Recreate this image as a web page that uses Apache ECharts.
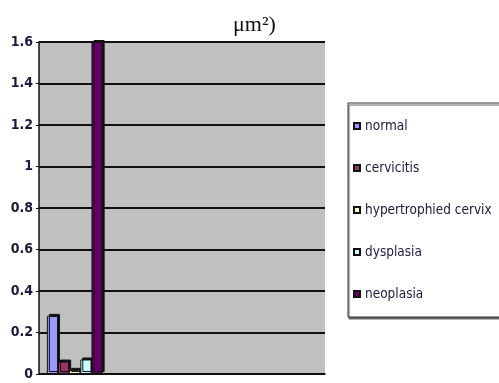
<!DOCTYPE html>
<html><head><meta charset="utf-8">
<script src="https://cdn.jsdelivr.net/npm/echarts@6/dist/echarts.min.js"></script>
<style>html,body{margin:0;padding:0;background:#fff}#c{width:499px;height:383px}</style>
</head><body><div id="c"></div>
<script>
const categories = ['', '', '', ''];
const seriesNames = ['normal', 'cervicitis', 'hypertrophied cervix', 'dysplasia', 'neoplasia'];
const normal = [0.28, null, null, null];
const cervicitis = [0.06, null, null, null];
const hypertrophied = [0.02, null, null, null];
const dysplasia = [0.07, null, null, null];
const neoplasia = [1.6, null, null, null];
const yTicks = [0, 0.2, 0.4, 0.6, 0.8, 1, 1.2, 1.4, 1.6];
const colors = ['#9999ff', '#993366', '#ffffcc', '#ccffff', '#660066'];
const values = [normal, cervicitis, hypertrophied, dysplasia, neoplasia];

const chart = echarts.init(document.getElementById('c'));
chart.setOption({
  animation: false,
  title: {
    text: 'μm²)', left: 228, top: 9,
    textStyle: {fontFamily: 'Liberation Serif', fontWeight: 'normal', fontSize: 22, color: '#111'}
  },
  grid: {left: 39, right: 174, top: 42, bottom: 9, show: true, backgroundColor: '#c0c0c0', borderWidth: 0},
  legend: {
    orient: 'vertical', left: 348, top: 103, width: 152,
    padding: [16, 30, 16, 5],
    itemWidth: 6, itemHeight: 6, itemGap: 28,
    backgroundColor: '#fff', borderColor: '#333', borderWidth: 1,
    shadowColor: '#666', shadowOffsetX: 1, shadowOffsetY: 2,
    icon: 'rect',
    textStyle: {fontFamily: 'DejaVu Sans Condensed', fontSize: 13.5, color: '#1a1a3c', padding: [0, 0, 0, 0]},
    data: seriesNames
  },
  xAxis: {
    type: 'category', data: categories,
    axisLine: {lineStyle: {color: '#111', width: 1.5}},
    axisTick: {length: 5, lineStyle: {color: '#111'}},
    axisLabel: {show: false}
  },
  yAxis: {
    type: 'value', min: 0, max: 1.6, interval: 0.2,
    axisLine: {show: true, lineStyle: {color: '#111', width: 1.5}},
    axisTick: {show: true, length: 3, lineStyle: {color: '#111'}},
    splitLine: {lineStyle: {color: '#111', width: 2}},
    axisLabel: {
      margin: 6, fontFamily: 'DejaVu Sans Condensed', fontWeight: 'bold', fontSize: 14, color: '#1a1a3c',
      formatter: v => { const t = yTicks.find(x => Math.abs(x - v) < 1e-9); return t === undefined ? '' : String(t); }
    }
  },
  series: values.map((d, i) => ({
    name: seriesNames[i], type: 'bar', data: d,
    barGap: '0%', barCategoryGap: '22%',
    itemStyle: {color: colors[i], borderColor: '#111', borderWidth: 1,
      shadowColor: '#111', shadowOffsetX: 2, shadowOffsetY: -2}
  }))
});
</script></body></html>
